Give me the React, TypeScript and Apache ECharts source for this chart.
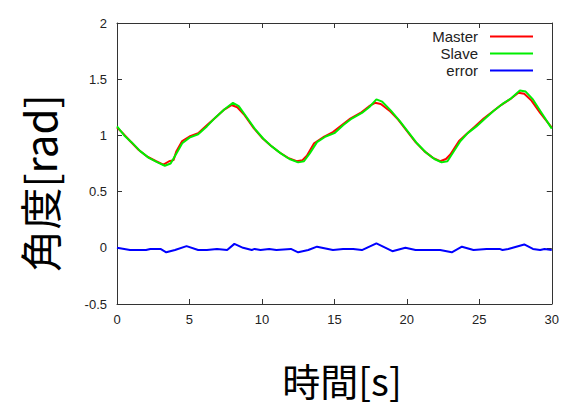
import React, { useEffect, useRef } from "react";
import * as echarts from "echarts";

const xTicks = [0, 5, 10, 15, 20, 25, 30];
const yTicks = [-0.5, 0, 0.5, 1, 1.5, 2];

const slave: [number, number][] = [
  [0, 1.08], [0.5, 1.0], [1.0, 0.94], [1.6, 0.86], [2.2, 0.8], [2.8, 0.76], [3.3, 0.73],
  [3.7, 0.75], [4.1, 0.84], [4.5, 0.93], [5.0, 0.98], [5.6, 1.01], [6.2, 1.08], [6.8, 1.16],
  [7.4, 1.23], [8.0, 1.29], [8.4, 1.26], [8.9, 1.17], [9.5, 1.06], [10.1, 0.97], [10.7, 0.9],
  [11.3, 0.84], [11.9, 0.79], [12.5, 0.76], [12.9, 0.77], [13.3, 0.84], [13.8, 0.94],
  [14.4, 0.99], [15.0, 1.02], [15.6, 1.09], [16.2, 1.15], [16.9, 1.2], [17.4, 1.25],
  [17.9, 1.32], [18.3, 1.3], [18.9, 1.22], [19.5, 1.13], [20.1, 1.03], [20.7, 0.93],
  [21.3, 0.85], [21.9, 0.79], [22.4, 0.76], [22.8, 0.77], [23.2, 0.85], [23.7, 0.95],
  [24.2, 1.02], [24.8, 1.08], [25.4, 1.15], [26.0, 1.22], [26.6, 1.28], [27.2, 1.33],
  [27.8, 1.4], [28.2, 1.39], [28.7, 1.32], [29.3, 1.2], [30, 1.06],
];

const master: [number, number][] = [
  [0, 1.07], [0.4, 1.02], [0.9, 0.95], [1.5, 0.87], [2.1, 0.81], [2.7, 0.77], [3.2, 0.74],
  [3.6, 0.77], [3.9, 0.78], [4.1, 0.86], [4.5, 0.95], [5.0, 0.99], [5.6, 1.02], [6.2, 1.09],
  [6.8, 1.16], [7.4, 1.23], [7.9, 1.27], [8.3, 1.25], [8.8, 1.18], [9.4, 1.07], [10.0, 0.98],
  [10.6, 0.91], [11.2, 0.85], [11.8, 0.8], [12.4, 0.77], [12.8, 0.78], [13.1, 0.82],
  [13.6, 0.93], [14.3, 0.99], [14.9, 1.03], [15.5, 1.09], [16.1, 1.15], [16.8, 1.2],
  [17.4, 1.26], [17.8, 1.29], [18.2, 1.28], [18.8, 1.22], [19.4, 1.14], [20.0, 1.04],
  [20.6, 0.94], [21.2, 0.86], [21.8, 0.8], [22.3, 0.77], [22.7, 0.79], [23.0, 0.83],
  [23.6, 0.95], [24.1, 1.01], [24.7, 1.08], [25.3, 1.15], [25.9, 1.21], [26.5, 1.27],
  [27.1, 1.32], [27.7, 1.38], [28.1, 1.37], [28.6, 1.31], [29.2, 1.2], [30, 1.07],
];

const error: [number, number][] = [
  [0, 0.0], [0.9, -0.02], [2.0, -0.02], [2.3, -0.01], [3.0, -0.01], [3.4, -0.04],
  [4.0, -0.02], [4.8, 0.015], [5.6, -0.02], [6.2, -0.02], [6.9, -0.01], [7.6, -0.02],
  [8.1, 0.035], [8.7, 0.0], [9.3, -0.02], [9.5, -0.01], [9.9, -0.02], [10.5, -0.01],
  [11.0, -0.02], [12.0, -0.01], [12.5, -0.04], [13.2, -0.02], [13.8, 0.01], [14.9, -0.02],
  [15.6, -0.01], [16.3, -0.01], [16.9, -0.02], [17.9, 0.04], [19.0, -0.03], [19.9, 0.0],
  [20.6, -0.02], [22.3, -0.02], [23.1, -0.04], [23.8, 0.01], [24.6, -0.02], [25.5, -0.01],
  [26.4, -0.01], [26.6, -0.02], [27.0, -0.01], [28.1, 0.03], [28.7, -0.01], [29.2, -0.02],
  [29.5, -0.01], [30, -0.02],
];

const seriesNames = ["Master", "Slave", "error"];
const seriesColors = ["#ff0000", "#00ee00", "#0000ff"];
const seriesData = [master, slave, error];

export default function App() {
  const ref = useRef<HTMLDivElement>(null);
  useEffect(() => {
    if (!ref.current) return;
    const chart = echarts.init(ref.current, undefined, { renderer: "svg" });
    const axisFont = { fontFamily: "Liberation Sans", fontSize: 13, color: "#222" };
    const frameLine = { show: true, onZero: false, lineStyle: { color: "#333", width: 1 } };
    const inTick = { show: true, inside: true, length: 5, lineStyle: { color: "#333" } };
    const legendTops = [29, 46, 63];
    chart.setOption({
      animation: false,
      grid: { left: 117, right: 10, top: 23, bottom: 104, containLabel: false },
      xAxis: [
        {
          type: "value", min: 0, max: 30, interval: 5,
          axisLine: frameLine, axisTick: inTick, splitLine: { show: false },
          axisLabel: { ...axisFont, margin: 9 },
        },
        {
          type: "value", position: "top", min: 0, max: 30, interval: 5,
          axisLine: frameLine, axisTick: inTick, splitLine: { show: false },
          axisLabel: { show: false },
        },
      ],
      yAxis: [
        {
          type: "value", min: -0.5, max: 2, interval: 0.5,
          axisLine: frameLine, axisTick: inTick, splitLine: { show: false },
          axisLabel: { ...axisFont, margin: 10 },
        },
        {
          type: "value", position: "right", min: -0.5, max: 2, interval: 0.5,
          axisLine: frameLine, axisTick: inTick, splitLine: { show: false },
          axisLabel: { show: false },
        },
      ],
      legend: seriesNames.map((n, i) => ({
        data: [n],
        right: 29,
        top: legendTops[i],
        align: "right",
        padding: 0,
        icon: "rect",
        itemWidth: 43,
        itemHeight: 2,
        selectedMode: false,
        textStyle: { fontFamily: "Liberation Sans", fontSize: 15, color: "#222", padding: [0, 7, 0, 0] },
      })),
      series: seriesNames.map((n, i) => ({
        name: n,
        type: "line",
        data: seriesData[i],
        showSymbol: false,
        symbol: "none",
        smooth: false,
        lineStyle: { color: seriesColors[i], width: 2 },
        itemStyle: { color: seriesColors[i] },
        z: i === 1 ? 3 : 2,
      })),
      graphic: [
        {
          type: "text",
          x: 38, y: 183, rotation: Math.PI / 2,
          style: {
            text: "角度[rad]", fontFamily: "Noto Sans CJK JP", fontSize: 42,
            fill: "#000", align: "center", verticalAlign: "middle",
          },
        },
        {
          type: "text",
          x: 342, y: 379,
          style: {
            text: "時間[s]", fontFamily: "Noto Sans CJK JP", fontSize: 38,
            fill: "#000", align: "center", verticalAlign: "middle",
          },
        },
      ],
    });
    return () => chart.dispose();
  }, []);
  return <div ref={ref} style={{ width: 562, height: 408, position: "absolute", left: 0, top: 0 }} />;
}
